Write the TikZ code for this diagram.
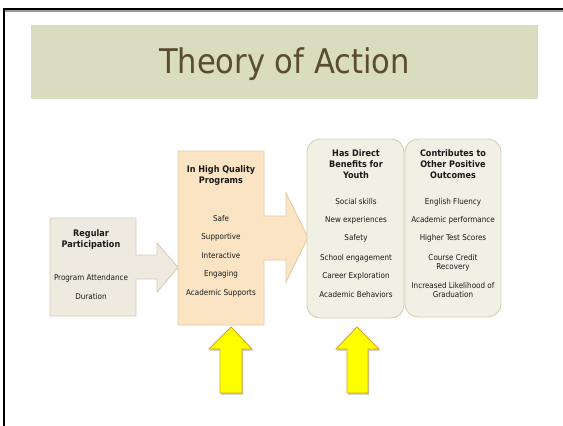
\documentclass[tikz,border=0pt]{standalone}
\usepackage{fontspec}
\setmainfont{DejaVu Sans Condensed}
\usetikzlibrary{shadows}
\definecolor{bandc}{RGB}{218,220,192}
\definecolor{titlec}{RGB}{90,76,48}
\definecolor{textc}{RGB}{25,25,25}
\definecolor{regfill}{RGB}{238,234,224}
\definecolor{regdraw}{RGB}{214,205,183}
\definecolor{hqfill}{RGB}{250,228,196}
\definecolor{hqdraw}{RGB}{226,204,163}
\definecolor{outfill}{RGB}{240,240,228}
\definecolor{outdraw}{RGB}{214,208,178}
\definecolor{yel}{RGB}{255,255,0}
\definecolor{yeldraw}{RGB}{222,160,40}
\begin{document}
\begin{tikzpicture}[x=1pt,y=-1pt,
  txt/.style={font=\fontsize{8}{10}\selectfont, anchor=base, inner sep=0pt, text=textc},
  hd/.style={font=\bfseries\fontsize{9}{11}\selectfont, align=center, anchor=north, inner sep=0pt, text=textc},
  regshape/.style={fill=regfill, draw=regdraw, line width=0.9pt, line join=miter},
  hqshape/.style={fill=hqfill, draw=hqdraw, line width=0.9pt, line join=miter},
  outbox/.style={fill=outfill, draw=outdraw, line width=0.9pt, rounded corners=13pt},
  yarrow/.style={fill=yel, draw=yeldraw, line width=0.9pt, line join=miter,
    drop shadow={shadow xshift=1pt, shadow yshift=-1.5pt, fill=black, opacity=0.25}}]
\useasboundingbox (0,0) rectangle (563,426);
\fill[white] (0,0) rectangle (563,426);
% slide frame
\fill[black!40] (4,10) rectangle (563,11.5);
\draw[line width=2.2pt] (4,426) -- (4,9) -- (563,9);
% title band
\fill[bandc] (31,25) rectangle (538,99);
\node[font=\fontsize{34}{40}\selectfont, text=titlec, anchor=base, inner sep=0pt] (title) at (284.5,73) {Theory of Action};
% regular participation
\draw[regshape] (50,218) -- (136,218) -- (136,255) -- (157,255) -- (157,243) -- (178,267.5)
  -- (157,292) -- (157,279) -- (136,279) -- (136,316) -- (50,316) -- cycle;
\node[hd] (regh) at (91,229.2) {Regular\\Participation};
\node[txt] (reg1) at (91,280) {Program Attendance};
\node[txt] (reg2) at (91,299) {Duration};
% high quality programs
\draw[hqshape] (178,151) -- (264,151) -- (264,216) -- (286,216) -- (286,193) -- (308,237.5)
  -- (286,282) -- (286,260) -- (264,260) -- (264,325) -- (178,325) -- cycle;
\node[hd] (hqh) at (221,165.2) {In High Quality\\Programs};
\node[txt] (hq1) at (221,221) {Safe};
\node[txt] (hq2) at (221,239) {Supportive};
\node[txt] (hq3) at (221,258) {Interactive};
\node[txt] (hq4) at (221,276) {Engaging};
\node[txt] (hq5) at (221,295) {Academic Supports};
% direct benefits
\draw[outbox] (307,139) rectangle (404,318);
\node[hd] (dbh) at (356,149.2) {Has Direct\\Benefits for\\Youth};
\node[txt] (db1) at (356,204) {Social skills};
\node[txt] (db2) at (356,222) {New experiences};
\node[txt] (db3) at (356,240) {Safety};
\node[txt] (db4) at (356,260) {School engagement};
\node[txt] (db5) at (356,278) {Career Exploration};
\node[txt] (db6) at (356,297) {Academic Behaviors};
% other outcomes
\draw[outbox] (405,139) rectangle (501,317);
\node[hd] (ooh) at (453,149.2) {Contributes to\\Other Positive\\Outcomes};
\node[txt] (oo1) at (453,204) {English Fluency};
\node[txt] (oo2) at (453,222) {Academic performance};
\node[txt] (oo3) at (453,240) {Higher Test Scores};
\node[txt] (oo4) at (453,260) {Course Credit};
\node[txt] (oo4b) at (453,269) {Recovery};
\node[txt] (oo5) at (453,288) {Increased Likelihood of};
\node[txt] (oo5b) at (453,297) {Graduation};
% yellow arrows
\draw[yarrow] (231,327) -- (252,349) -- (242,349) -- (242,393) -- (220,393) -- (220,349) -- (209,349) -- cycle;
\draw[yarrow] (357,327) -- (379,349) -- (368,349) -- (368,393) -- (347,393) -- (347,349) -- (336,349) -- cycle;
\end{tikzpicture}
\end{document}
